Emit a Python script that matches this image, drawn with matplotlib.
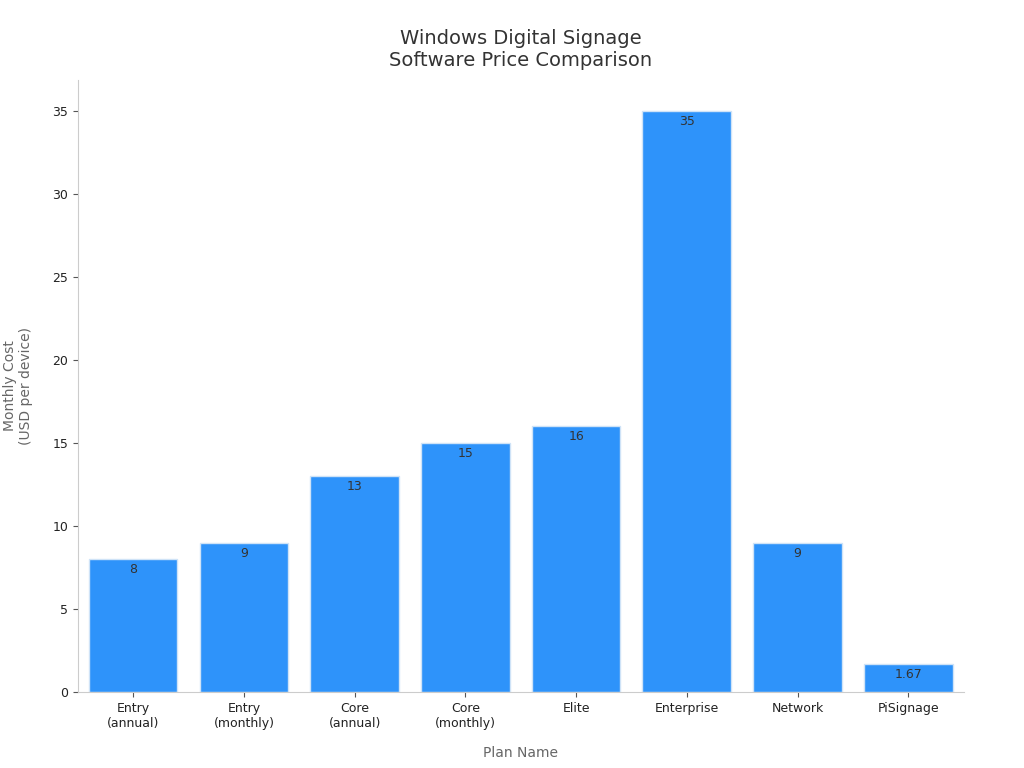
import matplotlib
matplotlib.use("Agg")
import matplotlib.pyplot as plt

categories = ["Entry\n(annual)", "Entry\n(monthly)", "Core\n(annual)", "Core\n(monthly)",
              "Elite", "Enterprise", "Network", "PiSignage"]
values = [8, 9, 13, 15, 16, 35, 9, 1.67]
labels = ["8", "9", "13", "15", "16", "35", "9", "1.67"]

fig = plt.figure(figsize=(10.24, 7.68), dpi=100)
ax = fig.add_axes([0.076, 0.099, 0.865, 0.797])
x = range(len(categories))
bars = ax.bar(x, values, width=0.8, color="#2E93FA", edgecolor="#cfe3f7", linewidth=1)
for xi, v, lab in zip(x, values, labels):
    ax.text(xi, v - 0.25, lab, ha="center", va="top", fontsize=9, color="#333333")
ax.set_xlim(-0.5, 7.5)
ax.set_ylim(0, 36.87)
ax.set_xticks(list(x))
ax.set_xticklabels(categories, fontsize=9, color="#222222")
ax.set_yticks(range(0, 36, 5))
ax.tick_params(axis="y", labelsize=9, colors="#222222")
ax.tick_params(axis="both", color="#555555")
for s in ["top", "right"]:
    ax.spines[s].set_visible(False)
for s in ["left", "bottom"]:
    ax.spines[s].set_color("#cccccc")
ax.set_xlabel("Plan Name", fontsize=10, color="#666666", labelpad=12)
ax.set_ylabel("Monthly Cost\n(USD per device)", fontsize=10, color="#666666", labelpad=14)
ax.set_title("Windows Digital Signage\nSoftware Price Comparison", fontsize=14, color="#333333", pad=10)
fig.savefig("out.png", dpi=100)
